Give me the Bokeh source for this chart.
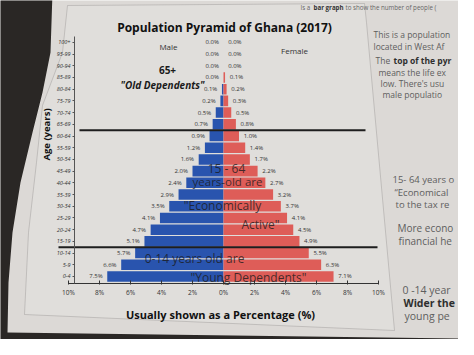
import numpy as np
from bokeh.plotting import figure
from bokeh.models import ColumnDataSource, FixedTicker, Label, PolyAnnotation
from bokeh.core.properties import value
from bokeh.embed import file_html
from bokeh.resources import INLINE

# ---------------- data ----------------
ages = ["0-4", "5-9", "10-14", "15-19", "20-24", "25-29", "30-34", "35-39",
        "40-44", "45-49", "50-54", "55-59", "60-64", "65-69", "70-74",
        "75-79", "80-84", "85-89", "90-94", "95-99", "100+"]
male = [7.5, 6.6, 5.7, 5.1, 4.7, 4.1, 3.5, 2.9, 2.4, 2.0, 1.6, 1.2, 0.9,
        0.7, 0.5, 0.2, 0.1, 0.0, 0.0, 0.0, 0.0]
female = [7.1, 6.3, 5.5, 4.9, 4.5, 4.1, 3.7, 3.2, 2.7, 2.2, 1.7, 1.4, 1.0,
          0.8, 0.5, 0.3, 0.2, 0.1, 0.0, 0.0, 0.0]
x_ticks = [-10, -8, -6, -4, -2, 0, 2, 4, 6, 8, 10]
x_tick_labels = ["10%", "8%", "6%", "4%", "2%", "0%", "2%", "4%", "6%", "8%", "10%"]

# ---------------- layout ----------------
W, H = 458, 339
FX0, FW, FY0, FH = 68, 310, 36, 247      # pixel box of the pyramid axes
X0, X1, Y0, Y1 = -10, 10, -0.6, 20.5
PAPER = "#dcd9d6"
DARK = "#2a2725"
BLUE = "#2954ae"
RED = "#de5d58"
FONT = "Open Sans"


def dx(rx):
    return X0 + (rx - 8 - FX0) / FW * (X1 - X0)


def dy(ry):
    return Y1 - (ry - 8 - FY0) / FH * (Y1 - Y0)


p = figure(width=W, height=H, x_range=(dx(8), dx(8 + W)),
           y_range=(dy(8 + H), dy(8)),
           output_backend="svg", toolbar_location=None, min_border=0)
p.background_fill_color = PAPER
p.border_fill_color = PAPER
p.outline_line_color = None
p.xgrid.visible = False
p.ygrid.visible = False

idx = list(range(len(ages)))
src = ColumnDataSource(dict(
    y=idx, age=ages,
    mneg=[-v for v in male], fem=female,
    mlab=[f"{v:.1f}%" for v in male], flab=[f"{v:.1f}%" for v in female],
    mx=[-v - 0.3 for v in male], fx=[v + 0.3 for v in female],
))

# chart box outline
box_x = [75, 372, 374, 402, 32, 36, 44, 50, 70]
box_y = [13, 11, 30, 338, 322, 240, 170, 113, 60]
p.add_layout(PolyAnnotation(xs=[dx(v) for v in box_x], ys=[dy(v) for v in box_y],
                            fill_color="#e0dedb", fill_alpha=1,
                            line_color="#7a7876", line_width=1,
                            level="underlay"))

p.hbar(y="y", left="mneg", right=0, height=0.9, source=src,
       fill_color=BLUE, line_color=None)
p.hbar(y="y", left=0, right="fem", height=0.9, source=src,
       fill_color=RED, line_color=None)

p.text(x="mx", y="y", text="mlab", source=src, text_align="right",
       text_baseline="middle", text_font=value(FONT), text_font_size="6px",
       text_color="#333333")
p.text(x="fx", y="y", text="flab", source=src, text_align="left",
       text_baseline="middle", text_font=value(FONT), text_font_size="6px",
       text_color="#333333")

# group separator lines (between 60-64/65-69 and 10-14/15-19)
old_b = ages.index("65-69") - 0.5
young_b = ages.index("10-14") + 0.5
p.segment(x0=[dx(87), dx(66)], y0=[old_b, young_b],
          x1=[dx(373), dx(385)], y1=[old_b, young_b],
          line_color="#1e1e1e", line_width=2)

# axes, drawn at fixed data locations inside the frame
p.yaxis.fixed_location = dx(82)
p.yaxis.bounds = (Y0, Y1)
p.yaxis.ticker = FixedTicker(ticks=idx)
p.yaxis.major_label_overrides = {i: a for i, a in zip(idx, ages)}
p.yaxis.major_label_text_font_size = "5.5px"
p.yaxis.major_label_text_font = FONT
p.yaxis.major_label_text_font_style = "italic"
p.yaxis.major_label_text_color = "#333333"
p.yaxis.axis_line_color = "#555555"
p.yaxis.major_tick_line_color = "#555555"
p.yaxis.major_tick_out = 2
p.yaxis.major_tick_in = 0
p.yaxis.minor_tick_line_color = None
p.yaxis.major_label_standoff = 2

p.xaxis.fixed_location = Y0
p.xaxis.bounds = (X0, X1)
p.xaxis.ticker = FixedTicker(ticks=x_ticks)
p.xaxis.major_label_overrides = {t: l for t, l in zip(x_ticks, x_tick_labels)}
p.xaxis.major_label_text_font_size = "6.5px"
p.xaxis.major_label_text_font = FONT
p.xaxis.major_label_text_color = "#333333"
p.xaxis.axis_line_color = "#333333"
p.xaxis.major_tick_line_color = "#333333"
p.xaxis.major_tick_in = 3
p.xaxis.major_tick_out = 1
p.xaxis.minor_tick_line_color = None
p.xaxis.major_label_standoff = 3


def lab(text, rx, ry, size, style="normal", color="#222222", align="center",
        angle=0, alpha=1.0, font=FONT):
    p.add_layout(Label(x=dx(rx), y=dy(ry), text=text, text_align=align,
                       text_baseline="middle", text_font=font,
                       text_font_size=f"{size}px", text_font_style=style,
                       text_color=color, angle=angle, text_alpha=alpha))


# titles
lab("Population Pyramid of Ghana (2017)", 232, 35, 12, "bold", "#111111")
lab("Usually shown as a Percentage (%)", 228, 322, 11, "bold", "#111111")
lab("Age (years)", 54, 142, 9.5, "bold", "#111111", angle=np.pi / 2)
lab("Male", 176, 54, 8, color="#333333")
lab("Female", 302, 58, 8, color="#333333")
lab("65+", 175, 77, 10, "bold", "#1a1a1a")
lab("\"Old Dependents\"", 170, 92, 10, "bold italic", "#1a1a1a")

# in-bar annotations
ann = "#1b1b1b"
lab("15 - 64", 234, 176, 12, color=ann, alpha=0.8)
lab("years-old are", 235, 189, 11.5, color=ann, alpha=0.8)
lab("\"Economically", 230, 213, 12, color=ann, alpha=0.8)
lab("Active\"", 268, 232, 12, color=ann, alpha=0.8)
lab("0-14 years old are", 202, 266, 12, color=ann, alpha=0.8)
lab("\"Young Dependents\"", 256, 285, 12, color=ann, alpha=0.8)

# page text around the chart
side = "#5e5e5e"
lab("Is a", 308, 15, 6.2, color="#666666", align="left")
lab("bar graph", 321, 15, 6.2, "bold", "#333333", align="left")
lab("to show the number of people (", 353, 15, 6.2, color="#666666", align="left")
side_lines = [
    ("This is a population", 381, 42, 8.5, "normal"),
    ("located in West Af", 381, 54, 8.5, "normal"),
    ("The", 383, 68, 8.5, "normal"),
    ("means the life ex", 386, 80, 8.5, "normal"),
    ("low.  There's usu", 388, 91, 8.5, "normal"),
    ("male populatio", 390, 102, 8.5, "normal"),
    ("15- 64 years o", 400, 187, 9.5, "normal"),
    ("\u201cEconomical", 402, 200, 9.5, "normal"),
    ("to the tax re", 403, 212, 9.5, "normal"),
    ("More econo", 405, 235, 10, "normal"),
    ("financial he", 406, 248, 10, "normal"),
    ("0 -14 year", 410, 297, 10.5, "normal"),
    ("Wider the", 411, 310, 10.5, "bold"),
    ("young pe", 412, 323, 10.5, "normal"),
]
for t, rx, ry, s, st in side_lines:
    lab(t, rx, ry, s, st, "#2e2e2e" if st == "bold" else side, align="left")
lab("top of the pyr", 401, 68, 8.5, "bold", "#2e2e2e", align="left")

# dark background outside the photographed page
dark_x = [0, 60, 58, 50, 40, 28, 20, 16, 15, 474, 474, 0]
dark_y = [0, 0, 60, 100, 140, 190, 240, 290, 340, 346, 360, 360]
p.add_layout(PolyAnnotation(xs=[dx(v) for v in dark_x], ys=[dy(v) for v in dark_y],
                            fill_color=DARK, fill_alpha=1, line_color=None,
                            level="overlay"))

open("out.html", "w").write(file_html(p, INLINE))
